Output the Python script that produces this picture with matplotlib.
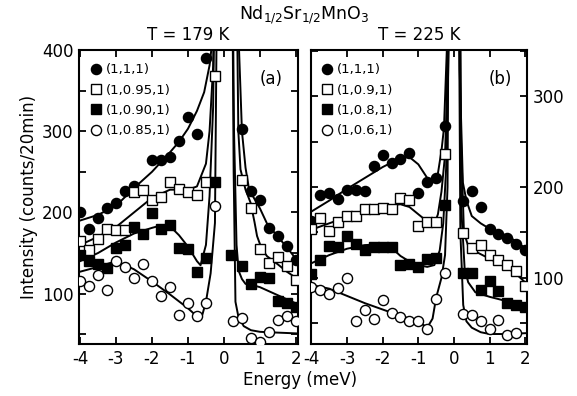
import matplotlib
matplotlib.use('Agg')
import matplotlib.pyplot as plt
from matplotlib.ticker import MultipleLocator

plt.rcParams['font.family'] = ['DejaVu Sans']
plt.rcParams['mathtext.fontset'] = 'dejavusans'
plt.rcParams['axes.unicode_minus'] = False

# ---------------- data: panel (a), T = 179 K ----------------
EL = [-4, -3.75, -3.5, -3.25, -3, -2.75, -2.5, -2.25, -2, -1.75, -1.5, -1.25, -1, -0.75, -0.5, -0.25]
ER = [0.25, 0.5, 0.75, 1, 1.25, 1.5, 1.75, 2]

a_111_E = [-4, -3.75, -3.5, -3.25, -3, -2.75, -2.5, -2, -1.75, -1.5, -1.25, -1, -0.75, -0.5,
           0.5, 0.75, 1, 1.25, 1.5, 1.75, 2]
a_111_I = [200, 180, 193, 205, 212, 227, 233, 264, 264, 268, 288, 318, 297, 390,
           303, 227, 215, 181, 171, 159, 141]
a_095_E = EL + [0.5, 0.75, 1, 1.25, 1.5, 1.75, 2]
a_095_I = [165, 154, 167, 180, 178, 178, 225, 228, 215, 219, 238, 229, 225, 222, 238, 368,
           240, 206, 155, 138, 145, 134, 117]
a_090_E = EL + [0.2, 0.5, 0.75, 1, 1.25, 1.5, 1.75, 2]
a_090_I = [148, 140, 137, 132, 156, 160, 182, 174, 199, 180, 184, 156, 155, 127, 144, 237,
           147, 134, 112, 120, 119, 91, 88, 84]
a_085_E = EL + ER
a_085_I = [115, 109, 123, 104, 140, 133, 119, 136, 116, 97, 108, 74, 88, 73, 89, 208,
           66, 70, 45, 41, 53, 68, 72, 66]

# fit curves (a): left branch and right branch
a_111_fitL_E = [-4, -3.5, -3, -2.5, -2, -1.5, -1.25, -1, -0.75, -0.55, -0.4, -0.3, -0.2]
a_111_fitL_I = [190, 197, 208, 230, 250, 274, 287, 303, 325, 348, 381, 420, 700]
a_111_fitR_E = [0.3, 0.42, 0.5, 0.6, 0.7, 1.0, 1.2, 1.5, 1.75, 2.05]
a_111_fitR_I = [700, 400, 300, 255, 228, 205, 186, 170, 157, 140]
a_095_fitL_E = [-4, -3.5, -3, -2.5, -2, -1.5, -1, -0.75, -0.5, -0.4, -0.3, -0.2]
a_095_fitL_I = [160, 170, 182, 200, 218, 228, 228, 232, 260, 300, 380, 700]
a_095_fitR_E = [0.3, 0.4, 0.46, 0.6, 0.74, 0.85, 0.92, 1.05, 1.2, 1.5, 1.75, 2.05]
a_095_fitR_I = [700, 300, 253, 228, 212, 188, 171, 155, 146, 136, 127, 118]
a_090_fitL_E = [-4, -3.5, -3, -2.5, -2, -1.75, -1.5, -1.25, -1, -0.75, -0.65, -0.5, -0.4, -0.3, -0.2]
a_090_fitL_I = [140, 150, 163, 174, 181, 184, 183, 172, 158, 140, 135, 160, 220, 330, 700]
a_090_fitR_E = [0.2, 0.28, 0.35, 0.41, 0.5, 0.6, 0.75, 1.0, 1.5, 2.05]
a_090_fitR_I = [700, 300, 160, 128, 118, 112, 111, 108, 98, 87]
a_085_fitL_E = [-4, -3.5, -3, -2.5, -2, -1.5, -1, -0.8, -0.6, -0.5, -0.37, -0.25, -0.15]
a_085_fitL_I = [127, 133, 140, 130, 115, 99, 82, 74, 74, 90, 125, 187, 700]
a_085_fitR_E = [0.2, 0.27, 0.32, 0.4, 0.55, 0.75, 1.0, 1.5, 2.05]
a_085_fitR_I = [700, 250, 90, 72, 60, 55, 53, 52, 51]

# ---------------- data: panel (b), T = 225 K ----------------
b_111_E = EL + ER
b_111_I = [163, 191, 193, 187, 197, 197, 196, 223, 235, 226, 231, 238, 193, 206, 210, 267,
           185, 196, 178, 154, 148, 144, 137, 131]
b_09_E = EL + ER
b_09_I = [154, 166, 152, 162, 168, 168, 176, 176, 177, 176, 188, 186, 157, 161, 161, 236,
          149, 133, 136, 125, 120, 114, 107, 91]
b_08_E = EL + ER
b_08_I = [104, 120, 135, 134, 146, 137, 131, 134, 134, 134, 114, 115, 112, 121, 122, 180,
          105, 105, 87, 96, 85, 72, 70, 68]
b_06_E = EL + [0.25, 0.5, 0.75, 1, 1.25, 1.5, 1.75]
b_06_I = [90, 87, 82, 89, 100, 52, 64, 55, 75, 61, 57, 52, 52, 44, 77, 105,
          60, 59, 52, 43, 53, 37, 39]

b_111_fitL_E = [-4, -3.5, -3, -2.5, -2, -1.5, -1.25, -1, -0.75, -0.6, -0.45, -0.35, -0.28, -0.2, -0.1]
b_111_fitL_I = [173, 185, 198, 210, 222, 232, 233, 225, 210, 205, 215, 240, 265, 351, 800]
b_111_fitR_E = [0.08, 0.16, 0.25, 0.35, 0.5, 0.75, 1.0, 1.25, 1.5, 1.75, 2.05]
b_111_fitR_I = [800, 330, 205, 185, 168, 160, 154, 150, 146, 140, 131]
b_09_fitL_E = [-4, -3.5, -3, -2.5, -2, -1.5, -1.25, -1, -0.75, -0.55, -0.45, -0.35, -0.25, -0.2, -0.12]
b_09_fitL_I = [153, 160, 167, 173, 179, 181, 178, 170, 162, 159, 170, 195, 235, 300, 800]
b_09_fitR_E = [0.12, 0.2, 0.28, 0.4, 0.5, 0.75, 1.0, 1.25, 1.5, 1.75, 2.05]
b_09_fitR_I = [800, 250, 150, 135, 131, 126, 121, 116, 111, 104, 93]
b_08_fitL_E = [-4, -3.5, -3, -2.5, -2, -1.75, -1.5, -1.25, -1, -0.75, -0.55, -0.4, -0.3, -0.22, -0.15, -0.1]
b_08_fitL_I = [116, 125, 132, 136, 137, 133, 124, 118, 114, 112, 114, 130, 160, 220, 351, 800]
b_08_fitR_E = [0.1, 0.2, 0.3, 0.4, 0.6, 1.0, 1.5, 2.05]
b_08_fitR_I = [800, 180, 110, 95, 84, 79, 74, 68]
b_06_fitL_E = [-4, -3.5, -3, -2.5, -2, -1.5, -1, -0.75, -0.6, -0.5, -0.35, -0.25, -0.18, -0.1]
b_06_fitL_I = [92, 88, 80, 72, 65, 58, 52, 45, 55, 78, 100, 125, 200, 800]
b_06_fitR_E = [0.08, 0.18, 0.26, 0.35, 0.5, 0.75, 1.0, 1.5, 2.05]
b_06_fitR_I = [800, 150, 70, 52, 45, 40, 38, 38, 39]

labels_a = ['(1,1,1)', '(1,0.95,1)', '(1,0.90,1)', '(1,0.85,1)']
labels_b = ['(1,1,1)', '(1,0.9,1)', '(1,0.8,1)', '(1,0.6,1)']
xticks = [-4, -3, -2, -1, 0, 1, 2]

# ---------------- figure ----------------
W, H = 577, 396
FS = 12
fig = plt.figure(figsize=(W / 100, H / 100), dpi=100)
axA = fig.add_axes([79.3 / W, 52 / H, 218.4 / W, 294 / H])
axB = fig.add_axes([310.7 / W, 52 / H, 216.3 / W, 294 / H])

styles = [dict(marker='o', mfc='black'), dict(marker='s', mfc='white'),
          dict(marker='s', mfc='black'), dict(marker='o', mfc='white')]

def draw(ax, pts, fits, labels):
    for (fx1, fy1, fx2, fy2) in fits:
        ax.plot(fx1, fy1, color='black', lw=1.4, zorder=2, solid_joinstyle='round')
        ax.plot(fx2, fy2, color='black', lw=1.4, zorder=2, solid_joinstyle='round')
    handles = []
    for (ex, iy), st, lab in zip(pts, styles, labels):
        ms = 7.3 if st['marker'] == 'o' else 6.7
        h, = ax.plot(ex, iy, linestyle='none', marker=st['marker'], ms=ms,
                     mfc=st['mfc'], mec='black', mew=1.0, zorder=3, label=lab)
        handles.append(h)
    ax.set_xlim(-4.02, 2.05)
    ax.set_xticks(xticks)
    ax.set_xticklabels([str(t) for t in xticks])
    ax.yaxis.set_major_locator(MultipleLocator(100))
    ax.yaxis.set_minor_locator(MultipleLocator(50))
    ax.tick_params(axis='both', which='both', direction='in', top=True, right=True,
                   length=5, width=1.3, labelsize=FS, pad=4)
    for s in ax.spines.values():
        s.set_linewidth(1.5)
    ax.legend(handles=handles, loc='upper left', bbox_to_anchor=(0.055, 0.955),
              frameon=False, fontsize=9.5, handlelength=0.7, handletextpad=0.4,
              labelspacing=0.56, borderaxespad=0.0, borderpad=0.0)

draw(axA,
     [(a_111_E, a_111_I), (a_095_E, a_095_I), (a_090_E, a_090_I), (a_085_E, a_085_I)],
     [(a_111_fitL_E, a_111_fitL_I, a_111_fitR_E, a_111_fitR_I),
      (a_095_fitL_E, a_095_fitL_I, a_095_fitR_E, a_095_fitR_I),
      (a_090_fitL_E, a_090_fitL_I, a_090_fitR_E, a_090_fitR_I),
      (a_085_fitL_E, a_085_fitL_I, a_085_fitR_E, a_085_fitR_I)], labels_a)
draw(axB,
     [(b_111_E, b_111_I), (b_09_E, b_09_I), (b_08_E, b_08_I), (b_06_E, b_06_I)],
     [(b_111_fitL_E, b_111_fitL_I, b_111_fitR_E, b_111_fitR_I),
      (b_09_fitL_E, b_09_fitL_I, b_09_fitR_E, b_09_fitR_I),
      (b_08_fitL_E, b_08_fitL_I, b_08_fitR_E, b_08_fitR_I),
      (b_06_fitL_E, b_06_fitL_I, b_06_fitR_E, b_06_fitR_I)], labels_b)

axA.set_ylim(38, 400)
axB.set_ylim(27, 351)
axB.tick_params(axis='y', which='both', labelleft=False, labelright=True)

axA.text(0.88, 0.9, '(a)', transform=axA.transAxes, ha='center', va='center', fontsize=FS)
axB.text(0.875, 0.9, '(b)', transform=axB.transAxes, ha='center', va='center', fontsize=FS)

fig.text(0.528, 0.962, r'Nd$_{\mathrm{1/2}}$Sr$_{\mathrm{1/2}}$MnO$_{\mathrm{3}}$',
         ha='center', va='center', fontsize=12.5)
axA.set_title('T = 179 K', fontsize=FS, pad=7)
axB.set_title('T = 225 K', fontsize=FS, pad=7)
axA.set_ylabel('Intensity (counts/20min)', fontsize=FS, labelpad=3)
fig.text(0.52, 0.04, 'Energy (meV)', ha='center', va='center', fontsize=FS)

fig.savefig('out.png', dpi=100)
